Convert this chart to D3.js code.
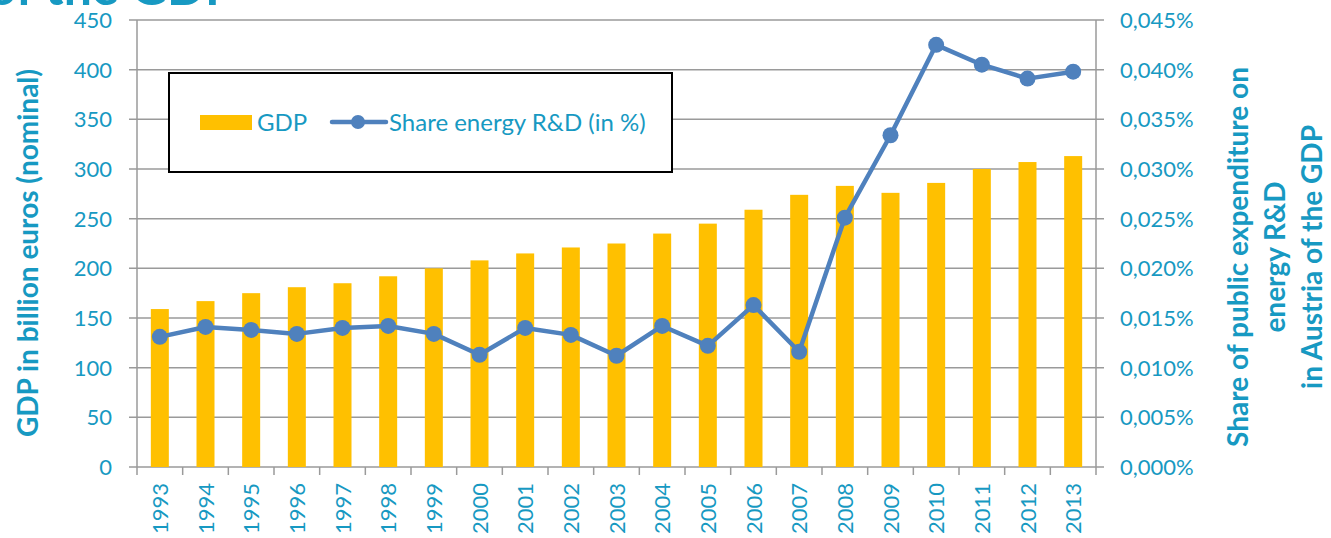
<!DOCTYPE html>
<html>
<head>
<meta charset="utf-8">
<script src="https://cdn.jsdelivr.net/npm/d3@7"></script>
<style>
  body { margin: 0; background: #fff; }
  text { font-family: Lato, "Open Sans", sans-serif; }
</style>
</head>
<body>
<script>
var years = ["1993", "1994", "1995", "1996", "1997", "1998", "1999", "2000", "2001", "2002",
    "2003", "2004", "2005", "2006", "2007", "2008", "2009", "2010", "2011", "2012", "2013"];

// GDP in billion euros
var gdp = [159, 167, 175, 181, 185, 192, 200, 208, 215, 221,
    225, 235, 245, 259, 274, 283, 276, 286, 300, 307, 313];

// share of energy R&D in % of GDP
var share = [0.0131, 0.0141, 0.0138, 0.0134, 0.0140, 0.0142, 0.0134, 0.0113, 0.0140, 0.0133,
    0.0112, 0.0142, 0.0122, 0.0163, 0.0116, 0.0251, 0.0334, 0.0425, 0.0405, 0.0391, 0.0398];

var leftTicks = [0, 50, 100, 150, 200, 250, 300, 350, 400, 450];
var rightTicks = [0, 0.005, 0.010, 0.015, 0.020, 0.025, 0.030, 0.035, 0.040, 0.045];

var width = 1331,
    height = 538;

var teal = "#1799c2",
    gold = "#ffc000",
    blue = "#4f81bd",
    grid = "#9a9a9a";

// plot edges (note: "top" is taken by window.top)
var plotLeft = 137, plotRight = 1096, plotTop = 20, plotBottom = 467;

var svg = d3.select("body").append("svg")
    .attr("width", width)
    .attr("height", height);

var x = d3.scaleBand()
    .domain(years)
    .range([plotLeft, plotRight]);

var y = d3.scaleLinear()
    .domain([0, 450])
    .range([plotBottom, plotTop]);

var y2 = d3.scaleLinear()
    .domain([0, 0.045])
    .range([plotBottom, plotTop]);

// gridlines (extend a bit past both axes, like tick marks)
svg.append("g")
    .selectAll("line")
    .data(leftTicks)
    .enter().append("line")
    .attr("x1", plotLeft - 8)
    .attr("x2", plotRight + 8)
    .attr("y1", function(d) { return y(d); })
    .attr("y2", function(d) { return y(d); })
    .style("stroke", grid)
    .style("stroke-width", 1.5);

// bars
svg.append("g")
    .selectAll("rect")
    .data(gdp)
    .enter().append("rect")
    .attr("x", function(d, i) { return x(years[i]) + x.bandwidth() / 2 - 9; })
    .attr("width", 18)
    .attr("y", function(d) { return y(d); })
    .attr("height", function(d) { return y(0) - y(d); })
    .style("fill", gold);

// vertical axis lines
svg.append("line")
    .attr("x1", plotLeft).attr("x2", plotLeft)
    .attr("y1", plotTop).attr("y2", plotBottom + 8)
    .style("stroke", grid).style("stroke-width", 1.5);
svg.append("line")
    .attr("x1", plotRight).attr("x2", plotRight)
    .attr("y1", plotTop).attr("y2", plotBottom + 8)
    .style("stroke", grid).style("stroke-width", 1.5);

// x ticks at category boundaries
svg.append("g")
    .selectAll("line")
    .data(years.slice(1))
    .enter().append("line")
    .attr("x1", function(d) { return x(d); })
    .attr("x2", function(d) { return x(d); })
    .attr("y1", plotBottom)
    .attr("y2", plotBottom + 8)
    .style("stroke", grid)
    .style("stroke-width", 1.5);

// left tick labels
svg.append("g")
    .selectAll("text")
    .data(leftTicks)
    .enter().append("text")
    .attr("x", 112)
    .attr("y", function(d) { return y(d) + 8; })
    .attr("text-anchor", "end")
    .style("font-size", "22px")
    .style("fill", teal)
    .text(function(d) { return d; });

// right tick labels
svg.append("g")
    .selectAll("text")
    .data(rightTicks)
    .enter().append("text")
    .attr("x", 1120)
    .attr("y", function(d) { return y2(d) + 8; })
    .style("font-size", "22px")
    .style("fill", teal)
    .text(function(d) { return d3.format(".3f")(d).replace(".", ",") + "%"; });

// x labels, rotated
svg.append("g")
    .selectAll("text")
    .data(years)
    .enter().append("text")
    .attr("transform", function(d) {
        return "translate(" + (x(d) + x.bandwidth() / 2 + 8) + "," + 483 + ") rotate(-90)";
    })
    .attr("text-anchor", "end")
    .style("font-size", "22px")
    .style("fill", teal)
    .text(function(d) { return d; });

// line
var line = d3.line()
    .x(function(d, i) { return x(years[i]) + x.bandwidth() / 2; })
    .y(function(d) { return y2(d); });

svg.append("path")
    .datum(share)
    .attr("d", line)
    .style("fill", "none")
    .style("stroke", blue)
    .style("stroke-width", 4.5)
    .style("stroke-linejoin", "round");

svg.append("g")
    .selectAll("circle")
    .data(share)
    .enter().append("circle")
    .attr("cx", function(d, i) { return x(years[i]) + x.bandwidth() / 2; })
    .attr("cy", function(d) { return y2(d); })
    .attr("r", 8)
    .style("fill", blue);

// legend
var legend = svg.append("g");
legend.append("rect")
    .attr("x", 169).attr("y", 73)
    .attr("width", 503).attr("height", 99)
    .style("fill", "#fff")
    .style("stroke", "#000")
    .style("stroke-width", 2);
legend.append("rect")
    .attr("x", 200).attr("y", 115)
    .attr("width", 52).attr("height", 15)
    .style("fill", gold);
legend.append("text")
    .attr("x", 257).attr("y", 131)
    .style("font-size", "24px")
    .style("fill", teal)
    .text("GDP");
legend.append("line")
    .attr("x1", 332).attr("x2", 386)
    .attr("y1", 122).attr("y2", 122)
    .style("stroke", blue)
    .style("stroke-width", 4.5)
    .style("stroke-linecap", "round");
legend.append("circle")
    .attr("cx", 358).attr("cy", 122).attr("r", 7)
    .style("fill", blue);
legend.append("text")
    .attr("x", 389).attr("y", 131)
    .style("font-size", "24px")
    .style("fill", teal)
    .text("Share energy R&D (in %)");

// axis titles
svg.append("text")
    .attr("transform", "translate(38,253) rotate(-90)")
    .attr("text-anchor", "middle")
    .style("font-size", "28px")
    .style("font-weight", "bold")
    .style("fill", teal)
    .text("GDP in billion euros (nominal)");

var rightTitle = ["Share of public expenditure on", "energy R&D", "in Austria of the GDP"];
svg.append("g")
    .selectAll("text")
    .data(rightTitle)
    .enter().append("text")
    .attr("transform", function(d, i) {
        return "translate(" + (1248 + i * 37) + ",257) rotate(-90)";
    })
    .attr("text-anchor", "middle")
    .style("font-size", "28px")
    .style("font-weight", "bold")
    .style("fill", teal)
    .text(function(d) { return d; });

// title, cut off at the top edge
svg.append("text")
    .attr("x", 236).attr("y", 5)
    .attr("text-anchor", "end")
    .style("font-size", "50px")
    .style("font-weight", "bold")
    .style("fill", teal)
    .text("of the GDP");
</script>
</body>
</html>
